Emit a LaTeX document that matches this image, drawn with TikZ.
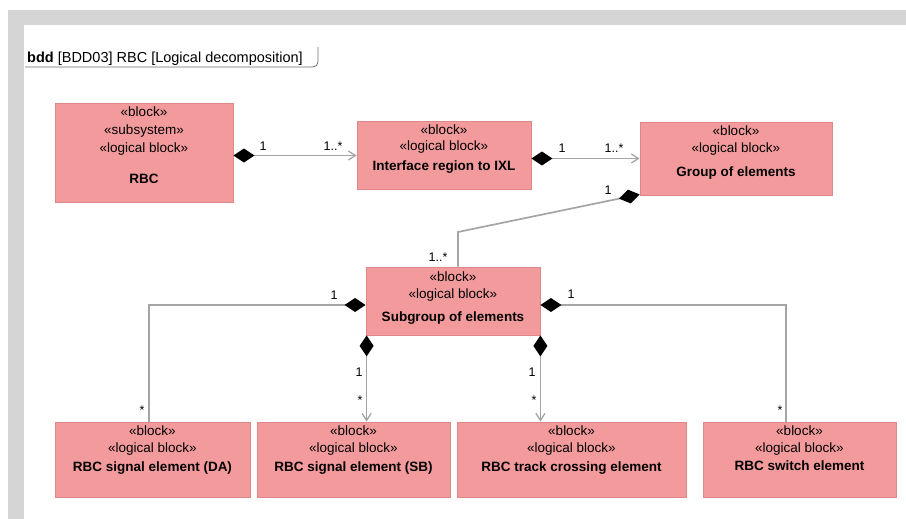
\documentclass[tikz,border=0pt]{standalone}
\usepackage{fontspec}
\setmainfont{Liberation Sans}
\usetikzlibrary{arrows.meta,calc}
\definecolor{blockfill}{RGB}{243,155,156}
\definecolor{blockline}{RGB}{222,135,136}
\definecolor{framegrey}{RGB}{213,213,213}
\definecolor{linkgrey}{RGB}{165,165,165}
\definecolor{tabline}{RGB}{110,110,110}
\begin{document}
\begin{tikzpicture}[x=1pt,y=-1pt,
  block/.style={draw=blockline, line width=0.8pt, fill=blockfill, rectangle, inner sep=0pt},
  blocktext/.style={anchor=north, align=center, inner sep=0pt, font=\fontsize{13.5}{16.5}\selectfont},
  assoc/.style={draw=linkgrey, line width=1.7pt},
  comp/.style={assoc, {Diamond[color=black,fill=black,length=21pt,width=14pt,line width=0pt]}-},
  compnav/.style={assoc, {Diamond[color=black,fill=black,length=21pt,width=14pt,line width=0pt]}-{Straight Barb[color=linkgrey,length=7pt,width=9pt,line width=1.3pt]}},
  mult/.style={inner sep=0pt, font=\fontsize{12.5}{14}\selectfont}
]
\useasboundingbox (0,0) rectangle (906,519);
% diagram frame
\fill[framegrey] (8,10) rectangle (906,519);
\fill[white] (24,25) rectangle (906,519);

% frame heading tab
\node[anchor=base west, inner sep=0pt, font=\fontsize{14.5}{16}\selectfont] (title) at (27,63)
  {\textbf{bdd} [BDD03] RBC [Logical decomposition]};
\draw[tabline, line width=0.8pt, rounded corners=5pt] (25,67) -- (318,67) -- (318,47);

% blocks
\node[block, minimum width=178pt, minimum height=99pt] (rbc) at (144,152.5) {};
\node[block, minimum width=174pt, minimum height=68pt] (iface) at (444,155.5) {};
\node[block, minimum width=192pt, minimum height=73pt] (group) at (736,158.5) {};
\node[block, minimum width=174pt, minimum height=68pt] (sub) at (453,301) {};
\node[block, minimum width=195pt, minimum height=75pt] (da) at (152.5,459.5) {};
\node[block, minimum width=193pt, minimum height=75pt] (sb) at (353.5,459.5) {};
\node[block, minimum width=229pt, minimum height=75pt] (tc) at (571.5,459.5) {};
\node[block, minimum width=193pt, minimum height=75pt] (sw) at (799.5,459.5) {};

% block texts
\node[blocktext] (rbc-t) at ($(rbc.north)+(0,4)$)
  {«block»\\[1.5pt]«subsystem»\\[1.5pt]«logical block»\\[14pt]\textbf{RBC}};
\node[blocktext] (iface-t) at ($(iface.north)+(0,3)$)
  {«block»\\«logical block»\\[3.5pt]\textbf{Interface region to IXL}};
\node[blocktext] (group-t) at ($(group.north)+(0,4)$)
  {«block»\\«logical block»\\[8pt]\textbf{Group of elements}};
\node[blocktext] (sub-t) at ($(sub.north)+(0,5)$)
  {«block»\\«logical block»\\[7pt]\textbf{Subgroup of elements}};
\node[blocktext] (da-t) at ($(da.north)+(0,4)$)
  {«block»\\«logical block»\\[3pt]\textbf{RBC signal element (DA)}};
\node[blocktext] (sb-t) at ($(sb.north)+(0,4)$)
  {«block»\\«logical block»\\[3pt]\textbf{RBC signal element (SB)}};
\node[blocktext] (tc-t) at ($(tc.north)+(0,4)$)
  {«block»\\«logical block»\\[3pt]\textbf{RBC track crossing element}};
\node[blocktext] (sw-t) at ($(sw.north)+(0,4)$)
  {«block»\\«logical block»\\[2pt]\textbf{RBC switch element}};

% bend points of the routed connectors
\coordinate (bendG) at (458,232);
\coordinate (bendL) at (149,305);
\coordinate (bendR) at (786,305);

% composite associations
\draw[compnav] (rbc.east |- iface.west) -- (iface.west);
\draw[compnav] (iface.east |- group.west) -- (group.west);
\draw[comp] ($(group.south west)+(0,-1)$) -- (bendG) -- (bendG |- sub.north);
\draw[comp] (sub.west |- bendL) -- (bendL) -- (bendL |- da.north);
\draw[compnav] ($(sub.south west)+(1,0)$) -- ($(sub.south west |- sb.north)+(1,0)$);
\draw[compnav] (sub.south east) -- (sub.south east |- tc.north);
\draw[comp] (sub.east |- bendR) -- (bendR) -- (bendR |- sw.north);

% multiplicities
\node[mult] (m1) at (263,146) {1};
\node[mult] (m2) at (333,146) {1..*};
\node[mult] (m3) at (562,148) {1};
\node[mult] (m4) at (614,148) {1..*};
\node[mult] (m5) at (608,190) {1};
\node[mult] (m6) at (438,257) {1..*};
\node[mult] (m7) at (334,295) {1};
\node[mult] (m8) at (142,410) {*};
\node[mult] (m9) at (359,372) {1};
\node[mult] (m10) at (360,400) {*};
\node[mult] (m11) at (532,372) {1};
\node[mult] (m12) at (534,400) {*};
\node[mult] (m13) at (571,294) {1};
\node[mult] (m14) at (780,410) {*};
\end{tikzpicture}
\end{document}
